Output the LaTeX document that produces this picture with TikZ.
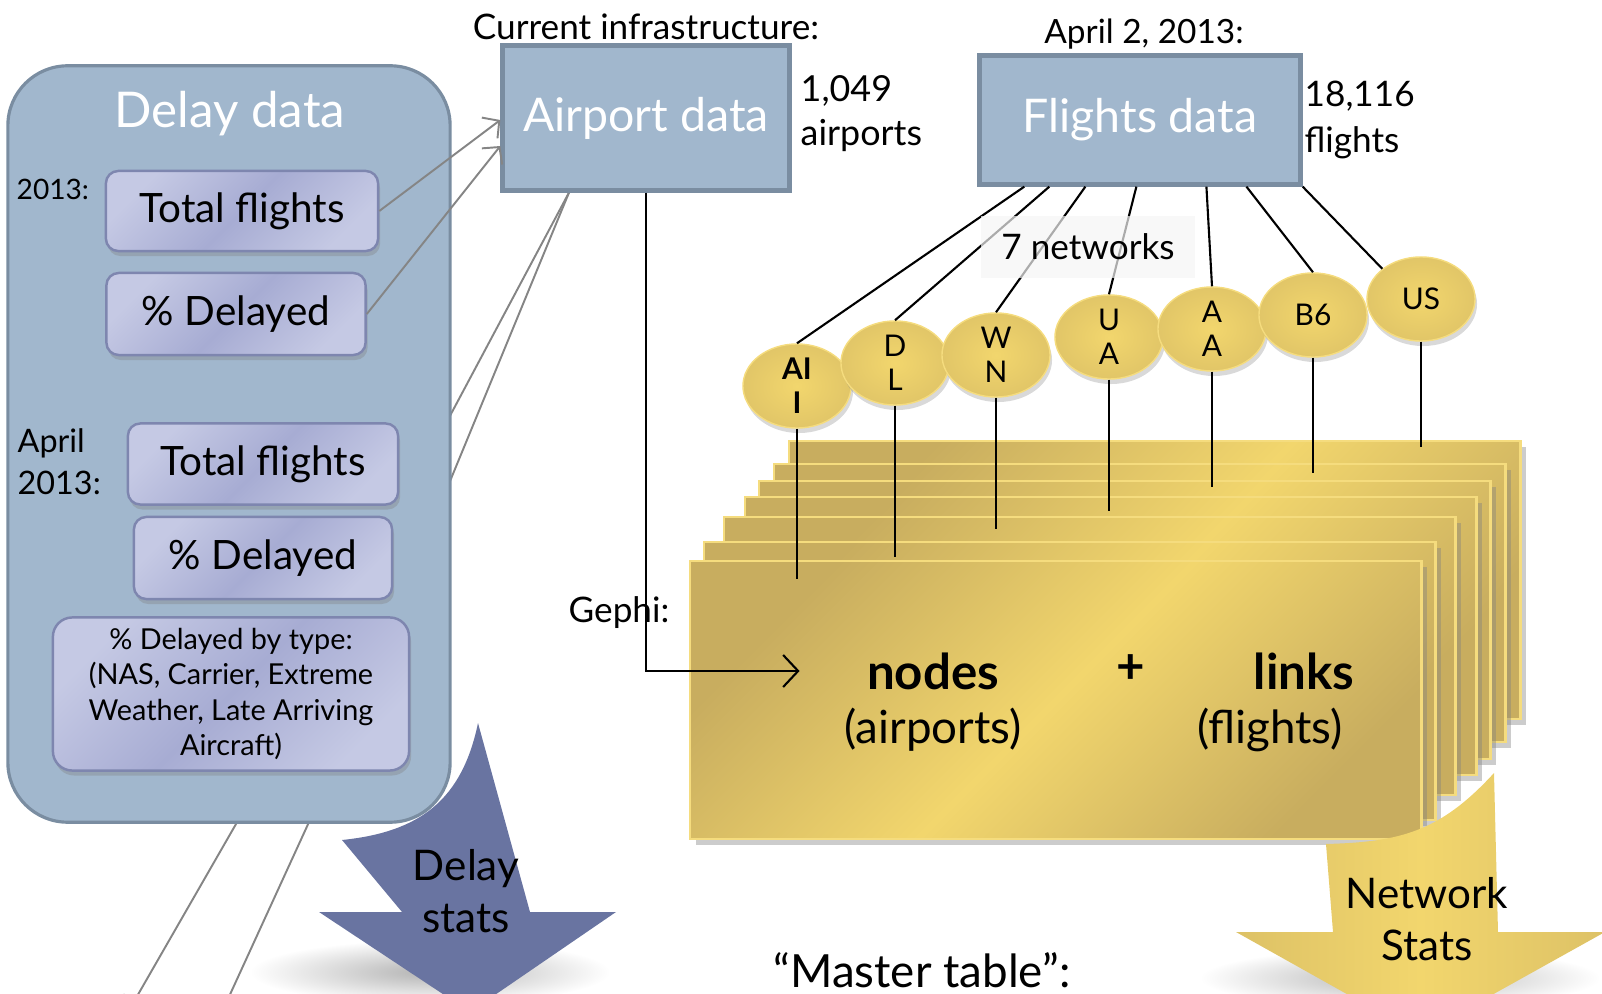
\documentclass[tikz,border=0pt]{standalone}
\usepackage{fontspec}
\setmainfont{Lato}
\usepackage{tikz}
\usetikzlibrary{arrows.meta}
\usetikzlibrary{shapes.geometric}
\usetikzlibrary{shadows}
\usetikzlibrary{backgrounds}

\definecolor{boxblue}{HTML}{A1B7CD}
\definecolor{boxline}{HTML}{7A8DA1}
\definecolor{lavlight}{HTML}{C5C9E4}
\definecolor{lavdark}{HTML}{A7ACD3}
\definecolor{lavline}{HTML}{7E86AF}
\definecolor{goldlight}{HTML}{F2D66D}
\definecolor{golddark}{HTML}{C8AD5F}
\definecolor{goldline}{HTML}{F5DC7E}
\definecolor{statsblue}{HTML}{6974A1}
\definecolor{linkgray}{HTML}{858585}

\newcommand{\fsz}[2]{\fontsize{#1}{#2}\selectfont}

\begin{document}
\begin{tikzpicture}[x=0.01cm,y=-0.01cm,
		bigbox/.style={draw=boxline,fill=boxblue,line width=0.9pt},
		titletext/.style={text=white,font=\fsz{13.2}{16}},
		subbox/.style={draw=lavline,line width=0.7pt,rounded corners=3.5pt,
			top color=lavlight,bottom color=lavlight,middle color=lavdark,shading angle=45,
			drop shadow={shadow xshift=0.02cm,shadow yshift=-0.05cm,opacity=0.35},
			inner sep=0pt,align=center,font=\fsz{11.5}{14}},
		card/.style={anchor=north west,minimum width=7.31cm,minimum height=2.78cm,
			inner sep=0pt,draw=goldline,line width=0.6pt,
			top color=golddark,bottom color=golddark,middle color=goldlight,shading angle=45,
			drop shadow={shadow xshift=0.06cm,shadow yshift=-0.06cm,opacity=0.4}},
		net/.style={ellipse,minimum width=1.08cm,minimum height=0.84cm,inner sep=0pt,
			draw=goldline,line width=0.4pt,inner color=goldlight,outer color=golddark!40!goldlight,
			drop shadow={shadow xshift=0.02cm,shadow yshift=-0.05cm,opacity=0.3},
			align=center,font=\fsz{8.5}{9.6}},
		netline/.style={draw=black,line width=0.6pt},
		link/.style={draw=linkgray,line width=0.55pt},
		linktip/.style={-{Straight Barb[length=1.2mm,width=2.6mm]}},
		plain/.style={align=left,inner sep=0pt,font=\fsz{10}{12}}]
	
	\useasboundingbox (0,0) rectangle (1602,994);
	
	% delay data
	\node[bigbox,rounded corners=17pt,minimum width=4.42cm,minimum height=7.56cm] (delay) at (229,444) {};
	\node[titletext,font=\fsz{14}{16}] (delaytitle) at (230,114) {Delay data};
	\node[subbox,minimum width=2.72cm,minimum height=0.80cm] (tf1) at (242,211) {Total flights};
	\node[subbox,minimum width=2.59cm,minimum height=0.82cm] (pd1) at (236,314) {\% Delayed};
	\node[subbox,minimum width=2.70cm,minimum height=0.81cm] (tf2) at (263,464) {Total flights};
	\node[subbox,minimum width=2.58cm,minimum height=0.82cm] (pd2) at (263,558) {\% Delayed};
	\node[subbox,rounded corners=5.5pt,minimum width=3.56cm,minimum height=1.53cm,font=\fsz{8.2}{10.1}] (pdt) at (231,694)
		{\% Delayed by type:\\(NAS, Carrier, Extreme\\Weather, Late Arriving\\Aircraft)};
	\node[plain,anchor=west,font=\fsz{8}{10}] (y2013) at (16,189) {2013:};
	\node[plain,anchor=west,font=\fsz{9.2}{12}] (apr2013) at (17,462) {April\\2013:};
	
	% sources
	\node[bigbox,line width=1.2pt,minimum width=2.87cm,minimum height=1.45cm,titletext] (airport) at (646,118) {Airport data};
	\node[bigbox,line width=1.2pt,minimum width=3.21cm,minimum height=1.29cm,titletext] (flights) at (1140,120) {Flights data};
	\node[font=\fsz{10}{11}] (curinf) at (646,27) {Current infrastructure:};
	\node[plain,anchor=west,font=\fsz{10.2}{12.5}] (nairports) at (800,114) {1,049\\airports};
	\node[font=\fsz{9.5}{11}] (apr2) at (1144,34) {April 2, 2013:};
	\node[plain,anchor=west,font=\fsz{10}{13}] (nflights) at (1304,120) {18,116\\flights};
	
	% stack of networks
	\foreach \n/\x/\y in {7/788/440,6/773/463,5/758/480,4/744/496,3/723/516,2/703/541,1/689/560}
		\node[card] (card\n) at (\x,\y) {};
	
	\node[net,font=\fsz{8.5}{9.6}\bfseries] (ai) at (797,386) {AI\\I};
	\node[net] (dl) at (895,363) {D\\L};
	\node[net] (wn) at (996,355) {W\\N};
	\node[net] (ua) at (1109,337) {U\\A};
	\node[net] (aa) at (1212,329) {A\\A};
	\node[net] (b6) at (1313,315) {B6};
	\node[net] (us) at (1421,299) {US};
	
	\path[netline]
		([xshift=0.47cm]flights.south west) edge (ai.north)
		([xshift=0.72cm]flights.south west) edge (dl.north)
		([xshift=1.08cm]flights.south west) edge (wn.north)
		([xshift=1.59cm]flights.south west) edge (ua.north)
		([xshift=2.29cm]flights.south west) edge (aa.north)
		([xshift=2.69cm]flights.south west) edge (b6.north)
		(flights.south east) edge (us.north west);
	
	\foreach \e/\c/\s in {ai/1/19,dl/2/16,wn/3/13,ua/4/15,aa/5/7,b6/6/10,us/7/7}
		\draw[netline] (\e.south) -- ([yshift=-\s*0.1mm]\e.south |- card\c.north);
	
	\node[fill=white!96!black,fill opacity=0.7,text opacity=1,minimum width=2.14cm,
		minimum height=0.61cm,font=\fsz{10}{12}] (seven) at (1088,247) {7 networks};
	
	% front card
	\node[font=\fsz{14}{16}\bfseries] (nodestxt) at (933,671) {nodes};
	\node[font=\fsz{13}{15}] (airportstxt) at (933,730) {(airports)};
	\node[font=\fsz{14}{16}\bfseries] (plus) at (1131,669) {+};
	\node[font=\fsz{14}{16}\bfseries] (linkstxt) at (1304,671) {links};
	\node[font=\fsz{13}{15}] (flightstxt) at (1270,730) {(flights)};
	
	\node[font=\fsz{10}{12}] (gephi) at (619,613) {Gephi:};
	\draw[line width=0.6pt,-{Straight Barb[length=1.5mm,width=3.2mm]}]
		(airport.south) |- ([xshift=-0.55cm]nodestxt.west);
	
	\path[link]
		(tf1.east) edge[linktip] ([yshift=-0.02cm]airport.west)
		(pd1.east) edge[linktip] ([yshift=-0.28cm]airport.west);
	
	\coordinate (out1) at (128,1012);
	\coordinate (out2) at (222,1012);
	\begin{scope}[on background layer]
		\draw[link] ([xshift=0.25cm]tf2.east) -- ([xshift=-0.77cm]airport.south);
		\draw[link] ([xshift=0.25cm]pd2.east) -- ([xshift=-0.77cm]airport.south);
		\draw[link,linktip] ([xshift=0.35cm]pdt.south) -- (out1);
		\draw[link,linktip] ([xshift=1.01cm]pdt.south) -- (out2);
	\end{scope}
	
	% stats arrows
	\shade[inner color=black!30,outer color=white] (430,972) ellipse [x radius=1.8cm,y radius=0.32cm];
	\fill[statsblue] (478,723) .. controls (462,800) and (420,832) .. (342,840) -- (402,912) -- (319,912)
		-- (470,1012) -- (616,912) -- (530,912) -- cycle;
	\node[align=center,font=\fsz{12}{14.8}] (delaystats) at (466,891) {Delay\\stats};
	
	\shade[inner color=black!30,outer color=white] (1400,978) ellipse [x radius=2cm,y radius=0.3cm];
	\shade[left color=golddark!50!goldlight,right color=golddark!50!goldlight,middle color=goldlight]
		(1494,773) .. controls (1440,832) and (1400,842) .. (1326,844) -- (1333,932) -- (1236,932)
		-- (1420,1035) -- (1605,932) -- (1498,932) -- cycle;
	\node[align=center,font=\fsz{12}{14.8}] (netstats) at (1427,919) {Network\\Stats};
	
	\node[font=\fsz{13}{15}] (master) at (922,970) {``Master table'':};
	
\end{tikzpicture}
\end{document}
